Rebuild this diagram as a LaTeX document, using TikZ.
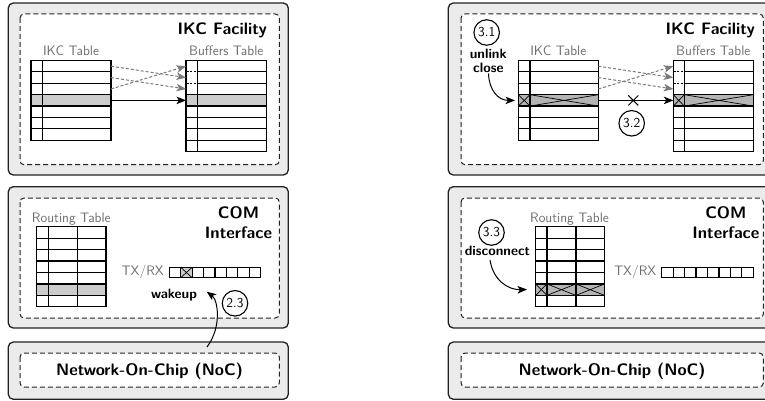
\documentclass[tikz,border=0pt]{standalone}
\usepackage{fontspec}
\renewcommand{\familydefault}{\sfdefault}
\usetikzlibrary{arrows.meta}

\definecolor{panelfill}{HTML}{EBEBEB}
\definecolor{edge}{HTML}{222222}
\definecolor{rowgray}{HTML}{CCCCCC}
\definecolor{rowdark}{HTML}{B4B4B4}
\definecolor{labelgray}{HTML}{6E6E6E}
\definecolor{linkgray}{HTML}{7A7A7A}

\tikzset{
  panel/.style={draw=edge, line width=1.3pt, fill=panelfill, rounded corners=5pt},
  innerbox/.style={draw=edge, line width=1pt, dash pattern=on 5pt off 3pt, fill=white, rounded corners=4pt},
  grid/.style={draw=black, line width=1.2pt},
  crossline/.style={draw=black, line width=0.7pt},
  title/.style={font=\sffamily\fontsize{16.6}{20.6}\selectfont\bfseries, inner sep=0pt, text=black, align=center},
  tlabel/.style={font=\sffamily\fontsize{13.7}{16}\selectfont, text=labelgray, inner sep=0pt},
  note/.style={font=\sffamily\fontsize{13.6}{13.5}\selectfont\bfseries, inner sep=0pt, align=center},
  stepnum/.style={circle, draw=black, line width=1.1pt, minimum size=25.5pt, inner sep=0pt,
                  font=\sffamily\fontsize{13.7}{16}\selectfont},
  link/.style={-{Stealth[length=9.5pt,width=7.5pt,inset=2.5pt]}, line width=1pt, draw=black},
  dlink/.style={link, draw=linkgray, dash pattern=on 3pt off 2pt}
}

% #1 left, #2 top, #3 column dividers (relative), #4 width, #5 rows, #6 row height
\newcommand\gridtable[6]{%
  \begin{scope}[shift={(#1,#2)}]
    \foreach \c in {#3} \draw[grid] (\c,0) -- (\c,{#5*#6});
    \foreach \i in {1,...,#5} \draw[grid] (0,{\i*#6}) -- (#4,{\i*#6});
    \draw[grid] (0,0) rectangle (#4,{#5*#6});
  \end{scope}}

% #1 left, #2 top, #3 right, #4 bottom : cell with a cross
\newcommand\crosscell[4]{%
  \draw[crossline] (#1,#2) -- (#3,#4) (#1,#4) -- (#3,#2);}

\begin{document}
\begin{tikzpicture}[x=1pt, y=-1pt, font=\sffamily]
\useasboundingbox (0,0) rectangle (765,401);

% ---------------- left column ----------------
\draw[panel] (8.3,3) rectangle (288.3,175);
\draw[innerbox] (20,14) rectangle (279.3,164.7);
\draw[panel] (8.3,186.7) rectangle (288.3,328);
\draw[innerbox] (20,198) rectangle (279.3,318);
\draw[panel] (8.3,342) rectangle (288.3,399.3);
\draw[innerbox] (20,353) rectangle (279.3,387);

\node[title, anchor=base east] (ikcL) at (267,34.5) {IKC Facility};
\node[tlabel, anchor=base] (ikctL) at (71,56) {IKC Table};
\node[tlabel, anchor=base] (buftL) at (226.3,56) {Buffers Table};

% IKC table and buffers table
\fill[rowgray] (31,{60.5+3*11.4}) rectangle (111,{60.5+4*11.4});
\gridtable{31}{60.5}{11.7}{80}{7}{11.4}
\fill[rowgray] (186,{60.5+3*11.4}) rectangle (266.7,{60.5+4*11.4});
\gridtable{186}{60.5}{11.7}{80.7}{8}{11.4}
\foreach \i in {1,2} {
  \draw[white, line width=1.5pt] (186.6,{60.5+\i*11.4}) -- (197.1,{60.5+\i*11.4});
  \draw[grid, dash pattern=on 2pt off 1.5pt] (186.6,{60.5+\i*11.4}) -- (197.1,{60.5+\i*11.4});
}

\coordinate (lA1) at (111,66.2);  \coordinate (lB1) at (186,66.2);
\coordinate (lA2) at (111,77.6);  \coordinate (lB2) at (186,77.6);
\coordinate (lA3) at (111,89);    \coordinate (lB3) at (186,89);
\coordinate (lA4) at (111,100.4); \coordinate (lB4) at (186,100.4);
\draw[dlink] (lA1) -- (lB2);
\draw[dlink] (lA2) -- (lB3);
\draw[dlink] (lA3) -- (lB1);
\draw[link] (lA4) -- (lB4);

% COM interface
\node[tlabel, anchor=base] (rtL) at (71.3,222.7) {Routing Table};
\fill[rowgray] (36.7,{226.7+5*11.45}) rectangle (106,{226.7+6*11.45});
\gridtable{36.7}{226.7}{11.6,40.6}{69.3}{7}{11.45}
\node[title] (comL) at (238.5,222.5) {COM\\Interface};
\node[tlabel, anchor=east] (txL) at (164,272.5) {TX/RX};
\fill[rowgray] (180.7,267.3) rectangle (192.1,277.7);
\gridtable{169.3}{267.3}{11.42,22.84,34.26,45.68,57.1,68.52,79.94}{91.4}{1}{10.4}
\crosscell{180.7}{267.3}{192.1}{277.7}
\node[note] (wkL) at (174,295) {wakeup};
\node[stepnum] (s23) at (235,303.3) {2.3};

\node[title] (nocL) at (149.5,371) {Network-On-Chip (NoC)};
\coordinate (wa) at (207,347);
\coordinate (wb) at (206.7,291.7);
\draw[link] (wa) .. controls (222,327) and (218,300) .. (wb);

% ---------------- right column ----------------
\draw[panel] (448.3,3) rectangle (772,175);
\draw[innerbox] (461,14) rectangle (763.3,164.7);
\draw[panel] (448.3,186.7) rectangle (772,328);
\draw[innerbox] (461,198) rectangle (763.3,318);
\draw[panel] (448.3,342) rectangle (772,399.3);
\draw[innerbox] (461,353) rectangle (763.3,387);

\node[title, anchor=base east] (ikcR) at (755,34.5) {IKC Facility};
\node[tlabel, anchor=base] (ikctR) at (558.3,56) {IKC Table};
\node[tlabel, anchor=base] (buftR) at (713.3,56) {Buffers Table};

\fill[rowdark] (518.3,{60.5+3*11.4}) rectangle (598.3,{60.5+4*11.4});
\gridtable{518.3}{60.5}{11.7}{80}{7}{11.4}
\crosscell{518.3}{94.7}{530}{106.1}
\crosscell{530}{94.7}{598.3}{106.1}
\fill[rowdark] (673.3,{60.5+3*11.4}) rectangle (753.3,{60.5+4*11.4});
\gridtable{673.3}{60.5}{11}{80}{8}{11.4}
\crosscell{673.3}{94.7}{684.3}{106.1}
\crosscell{684.3}{94.7}{753.3}{106.1}
\foreach \i in {1,2} {
  \draw[white, line width=1.5pt] (673.9,{60.5+\i*11.4}) -- (683.7,{60.5+\i*11.4});
  \draw[grid, dash pattern=on 2pt off 1.5pt] (673.9,{60.5+\i*11.4}) -- (683.7,{60.5+\i*11.4});
}

\coordinate (rA1) at (598.3,66.2);  \coordinate (rB1) at (673.3,66.2);
\coordinate (rA2) at (598.3,77.6);  \coordinate (rB2) at (673.3,77.6);
\coordinate (rA3) at (598.3,89);    \coordinate (rB3) at (673.3,89);
\coordinate (rA4) at (598.3,100.4); \coordinate (rB4) at (673.3,100.4);
\draw[dlink] (rA1) -- (rB2);
\draw[dlink] (rA2) -- (rB3);
\draw[dlink] (rA3) -- (rB1);
\draw[link] (rA4) -- (rB4);
\coordinate (cut) at (633.3,100.4);
\draw[line width=1pt] ([shift={(-5,-5)}]cut) -- ([shift={(5,5)}]cut)
                      ([shift={(-5,5)}]cut) -- ([shift={(5,-5)}]cut);
\node[stepnum] (s32) at (631.7,123.3) {3.2};

\node[stepnum] (s31) at (486.7,32.5) {3.1};
\node[note] (unl) at (488.3,60.8) {unlink\\close};
\coordinate (ua) at (488.5,73.5);
\coordinate (ub) at (515,100.4);
\draw[link] (ua) .. controls (489,90) and (498,100.4) .. (ub);

% COM interface
\node[tlabel, anchor=base] (rtR) at (569.5,222.7) {Routing Table};
\fill[rowdark] (535.7,{226.7+5*11.45}) rectangle (604.5,{226.7+6*11.45});
\gridtable{535.7}{226.7}{11.2,40.2}{68.8}{7}{11.45}
\crosscell{535.7}{283.95}{546.9}{295.4}
\crosscell{546.9}{283.95}{575.9}{295.4}
\crosscell{575.9}{283.95}{604.5}{295.4}
\node[title] (comR) at (725.8,222.5) {COM\\Interface};
\node[tlabel, anchor=east] (txR) at (656.5,272.5) {TX/RX};
\gridtable{661.7}{267.3}{11.45,22.9,34.35,45.8,57.25,68.7,80.15}{91.6}{1}{10.4}

\node[stepnum] (s33) at (491.5,232.5) {3.3};
\node[note] (disc) at (497.5,251) {disconnect};
\coordinate (da) at (490,260);
\coordinate (db) at (527,289.5);
\draw[link] (da) .. controls (493,280) and (508,290) .. (db);

\node[title] (nocR) at (612,371) {Network-On-Chip (NoC)};
\end{tikzpicture}
\end{document}
